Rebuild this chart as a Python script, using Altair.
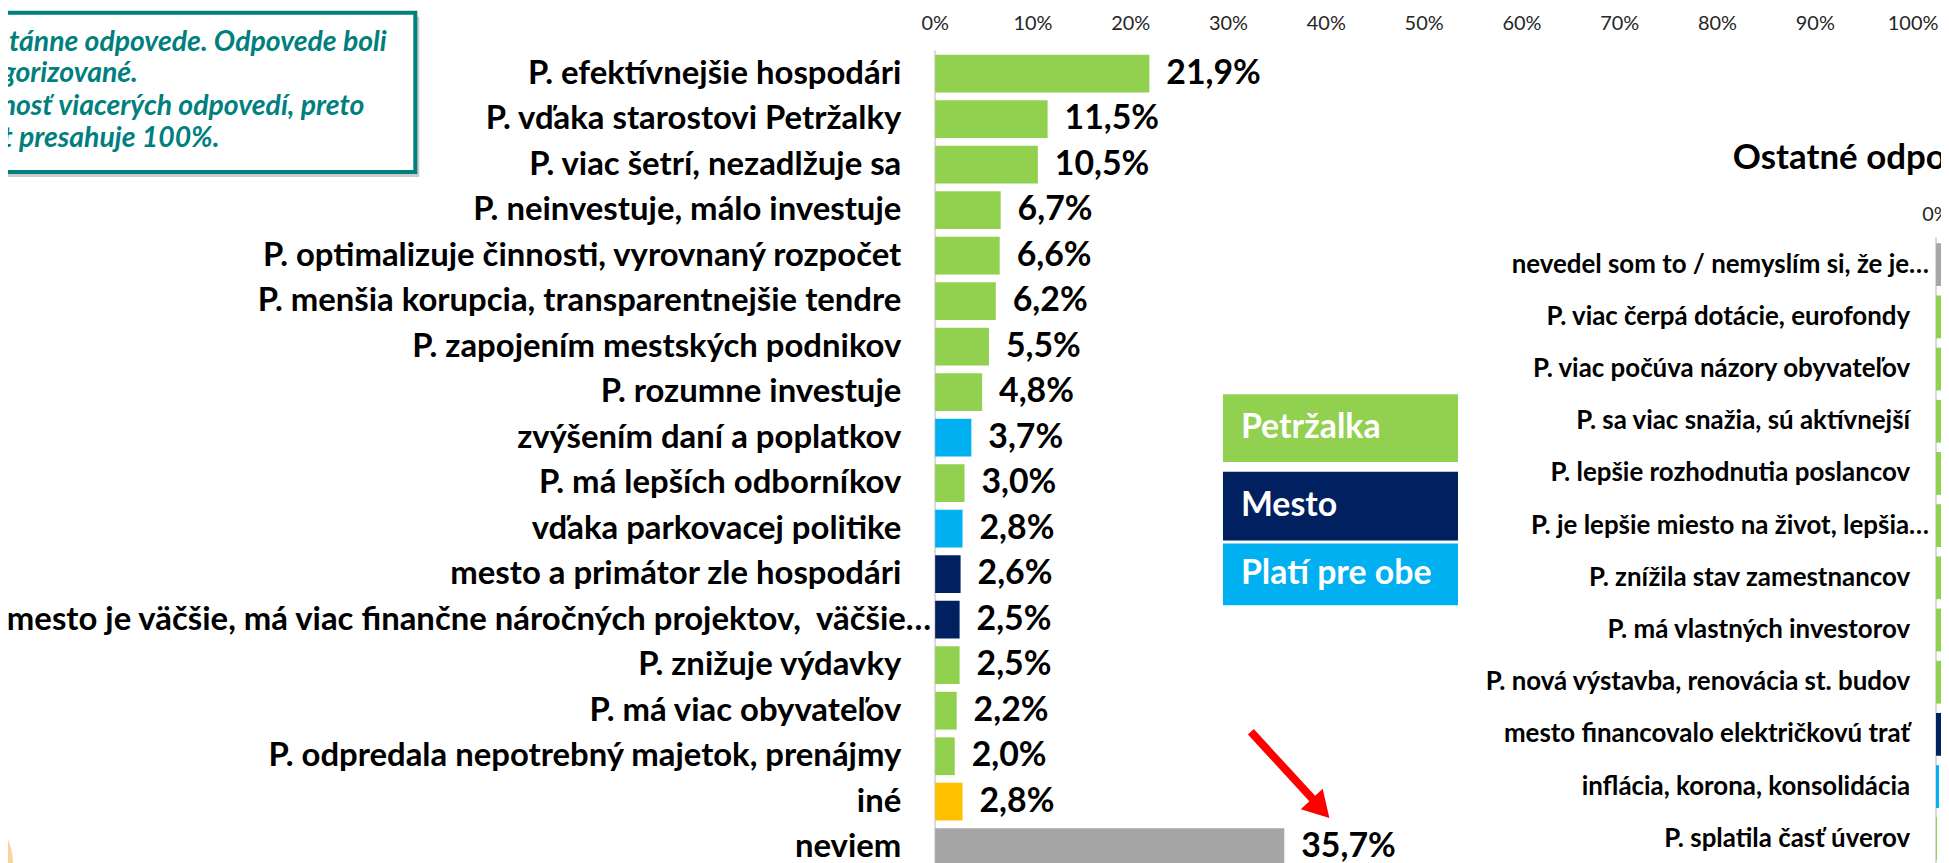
import altair as alt
import pandas as pd

# ---------------- data ----------------
main_labels = [
    "P. efektívnejšie hospodári",
    "P. vďaka starostovi Petržalky",
    "P. viac šetrí, nezadlžuje sa",
    "P. neinvestuje, málo investuje",
    "P. optimalizuje činnosti, vyrovnaný rozpočet",
    "P. menšia korupcia, transparentnejšie tendre",
    "P. zapojením mestských podnikov",
    "P. rozumne investuje",
    "zvýšením daní a poplatkov",
    "P. má lepších odborníkov",
    "vďaka parkovacej politike",
    "mesto a primátor zle hospodári\u00a0",
    "mesto je väčšie, má viac finančne náročných projektov,\u00a0 väčšie…",
    "P. znižuje výdavky",
    "P. má viac obyvateľov\u00a0",
    "P. odpredala nepotrebný majetok, prenájmy",
    "iné",
    "neviem",
]
main_values = [21.9, 11.5, 10.5, 6.7, 6.6, 6.2, 5.5, 4.8, 3.7, 3.0, 2.8, 2.6, 2.5, 2.5, 2.2, 2.0, 2.8, 35.7]
main_groups = ["Petržalka"] * 8 + [
    "Platí pre obe", "Petržalka", "Platí pre obe", "Mesto", "Mesto",
    "Petržalka", "Petržalka", "Petržalka", "iné", "neviem",
]

other_title = "Ostatné odpovede"
other_labels = [
    "nevedel som to / nemyslím si, že je…",
    "P. viac čerpá dotácie, eurofondy",
    "P. viac počúva názory obyvateľov",
    "P. sa viac snažia, sú aktívnejší",
    "P. lepšie rozhodnutia poslancov",
    "P. je lepšie miesto na život, lepšia…",
    "P. znížila stav zamestnancov",
    "P. má vlastných investorov",
    "P. nová výstavba, renovácia st. budov\u00a0",
    "mesto financovalo električkovú trať",
    "inflácia, korona, konsolidácia",
    "P. splatila časť úverov",
]
other_values = [4.4, 1.9, 1.7, 1.5, 1.4, 1.3, 1.2, 1.1, 1.0, 0.9, 0.3, 0.1]
other_groups = ["neviem"] + ["Petržalka"] * 8 + ["Mesto", "Platí pre obe", "Petržalka"]

tick_values = [0, 10, 20, 30, 40, 50, 60, 70, 80, 90, 100]

legend_labels = ["Petržalka", "Mesto", "Platí pre obe"]
group_domain = ["Petržalka", "Mesto", "Platí pre obe", "iné", "neviem"]
group_colors = ["#92D050", "#002060", "#00B0F0", "#FFC000", "#A6A6A6"]

note_lines = [
    "Spontánne odpovede. Odpovede boli",
    "kategorizované.",
    "Možnosť viacerých odpovedí, preto",
    "súčet presahuje 100%.",
]

# ---------------- layout helpers ----------------
M = 8  # page margin
FONT = "Lato"
TEAL = "#007F7E"

color_scale = alt.Scale(domain=group_domain, range=group_colors)
one = pd.DataFrame({"d": [0]})

# ---------------- main chart ----------------
main_df = pd.DataFrame({"label": main_labels, "v": main_values, "group": main_groups})
x_main = alt.Scale(domain=[0, 100], range=[939 - M, 1921 - M], nice=False)
y_main = alt.Scale(domain=main_labels, range=[49.2 - M, 871.8 - M],
                   paddingInner=0.17, paddingOuter=0.085)

X_main = alt.X("v:Q", scale=x_main, axis=None)
Y_main = alt.Y("label:N", scale=y_main, axis=None)

axis_main = alt.Chart(pd.DataFrame({"z": [0]})).mark_rule(color="#D9D9D9", strokeWidth=2).encode(
    x=alt.X("z:Q", scale=x_main, axis=None), y=alt.value(49 - M), y2=alt.value(880 - M)
)
bars_main = alt.Chart(main_df).mark_bar().encode(
    x=X_main, y=Y_main, color=alt.Color("group:N", scale=color_scale, legend=None)
)
vals_main = alt.Chart(main_df).transform_calculate(
    txt="replace(format(datum.v, '.1f'), '.', ',') + '%'"
).mark_text(align="left", baseline="middle", dx=17, font=FONT, fontWeight="bold",
            fontSize=34, color="black").encode(x=X_main, y=Y_main, text="txt:N")
lab_main = alt.Chart(main_df).transform_filter("indexof(datum.label, '…') < 0").mark_text(
    align="right", baseline="middle", font=FONT, fontWeight="bold", fontSize=33, color="black"
).encode(x=alt.value(905 - M), y=Y_main, text="label:N")
lab_main_ell = alt.Chart(main_df).transform_filter("indexof(datum.label, '…') >= 0").mark_text(
    align="right", baseline="middle", font=FONT, fontWeight="bold", fontSize=33, color="black"
).encode(x=alt.value(935 - M), y=Y_main, text="label:N")
ticks_main = alt.Chart(pd.DataFrame({"t": tick_values})).transform_calculate(
    lbl="datum.t + '%'"
).mark_text(baseline="middle", font=FONT, fontSize=20, color="#262626").encode(
    x=alt.X("t:Q", scale=x_main, axis=None), y=alt.value(22 - M), text="lbl:N"
)
main_group = alt.layer(axis_main, bars_main, vals_main, lab_main, lab_main_ell, ticks_main)

# ---------------- other answers chart (cut at right edge) ----------------
oth_df = pd.DataFrame({"label": other_labels, "v": other_values, "group": other_groups})
x_oth = alt.Scale(domain=[0, 100], range=[1944 - M, 1944 - M + 982], nice=False)
y_oth = alt.Scale(domain=other_labels, range=[237.8 - M, 866.6 - M],
                  paddingInner=0.18, paddingOuter=0.09)
X_oth = alt.X("v:Q", scale=x_oth, axis=None)
Y_oth = alt.Y("label:N", scale=y_oth, axis=None)

axis_oth = alt.Chart(pd.DataFrame({"z": [0]})).mark_rule(color="#D9D9D9", strokeWidth=2).encode(
    x=alt.X("z:Q", scale=x_oth, axis=None), y=alt.value(237 - M), y2=alt.value(880 - M)
)
bars_oth = alt.Chart(oth_df).mark_bar().encode(
    x=X_oth, y=Y_oth, color=alt.Color("group:N", scale=color_scale, legend=None)
)
vals_oth = alt.Chart(oth_df).transform_calculate(
    txt="replace(format(datum.v, '.1f'), '.', ',') + '%'"
).mark_text(align="left", baseline="middle", dx=14, font=FONT, fontWeight="bold",
            fontSize=26, color="black").encode(x=X_oth, y=Y_oth, text="txt:N")
lab_oth = alt.Chart(oth_df).transform_filter("indexof(datum.label, '…') < 0").mark_text(
    align="right", baseline="middle", font=FONT, fontWeight="bold", fontSize=26, color="black"
).encode(x=alt.value(1918 - M), y=Y_oth, text="label:N")
lab_oth_ell = alt.Chart(oth_df).transform_filter("indexof(datum.label, '…') >= 0").mark_text(
    align="right", baseline="middle", font=FONT, fontWeight="bold", fontSize=26, color="black"
).encode(x=alt.value(1937 - M), y=Y_oth, text="label:N")
ticks_oth = alt.Chart(pd.DataFrame({"t": tick_values})).transform_calculate(
    lbl="datum.t + '%'"
).mark_text(baseline="middle", font=FONT, fontSize=20, color="#262626").encode(
    x=alt.X("t:Q", scale=x_oth, axis=None), y=alt.value(214 - M), text="lbl:N"
)
oth_group = alt.layer(axis_oth, bars_oth, vals_oth, lab_oth, lab_oth_ell, ticks_oth)

title_oth = alt.Chart(one).mark_text(
    align="left", baseline="middle", font=FONT, fontWeight="bold", fontSize=35, color="black"
).encode(x=alt.value(1740 - M), y=alt.value(157 - M), text=alt.value(other_title))

# ---------------- decorations ----------------
def rect(x1, y1, x2, y2, **kw):
    return alt.Chart(one).mark_rect(**kw).encode(
        x=alt.value(x1 - M), x2=alt.value(x2 - M), y=alt.value(y1 - M), y2=alt.value(y2 - M)
    )

blob = alt.Chart(one).mark_point(shape="circle", filled=True, opacity=1, size=15400,
                                 color="#F8D39C").encode(x=alt.value(-49 - M), y=alt.value(866 - M))

shadow = rect(-30, 15, 421, 176, color="#8C8C8C", opacity=0.45)
box = rect(-30, 11, 417, 171, fill="white", stroke=TEAL, strokeWidth=4)
note_baselines = [49, 81, 114, 146]
notes = [
    alt.Chart(one).mark_text(align="left", baseline="alphabetic", font=FONT, fontWeight="bold",
                             fontStyle="italic", fontSize=28.5, color=TEAL).encode(
        x=alt.value(-51 - M), y=alt.value(b - M), text=alt.value(t))
    for t, b in zip(note_lines, note_baselines)
]

legend_boxes = [(394, 462), (472, 541), (544, 606)]
legend_layers = []
for lbl, (t, b) in zip(legend_labels, legend_boxes):
    col = group_colors[group_domain.index(lbl)]
    legend_layers.append(rect(1228, t, 1464, b, color=col))
    legend_layers.append(
        alt.Chart(one).mark_text(align="left", baseline="middle", font=FONT, fontWeight="bold",
                                 fontSize=34, color="white").encode(
            x=alt.value(1246 - M), y=alt.value((t + b) / 2 - M), text=alt.value(lbl))
    )

arrow_shaft = alt.Chart(one).mark_rule(color="#FF0000", strokeWidth=8).encode(
    x=alt.value(1256 - M), y=alt.value(733 - M), x2=alt.value(1325 - M), y2=alt.value(808 - M)
)
arrow_head = alt.Chart(one).mark_point(shape="triangle-up", filled=True, opacity=1, size=900,
                                       angle=137, color="#FF0000").encode(
    x=alt.value(1326 - M), y=alt.value(810 - M)
)

chart = alt.layer(
    blob, shadow, box, *notes, *legend_layers, arrow_shaft, arrow_head, title_oth,
    main_group, oth_group,
).resolve_scale(x="independent", y="independent").properties(
    width=1941, height=855, autosize=alt.AutoSizeParams(type="none"), padding=0
).configure_view(stroke=None)

chart.save("out.html", embed_options={"renderer": "svg", "actions": False})
